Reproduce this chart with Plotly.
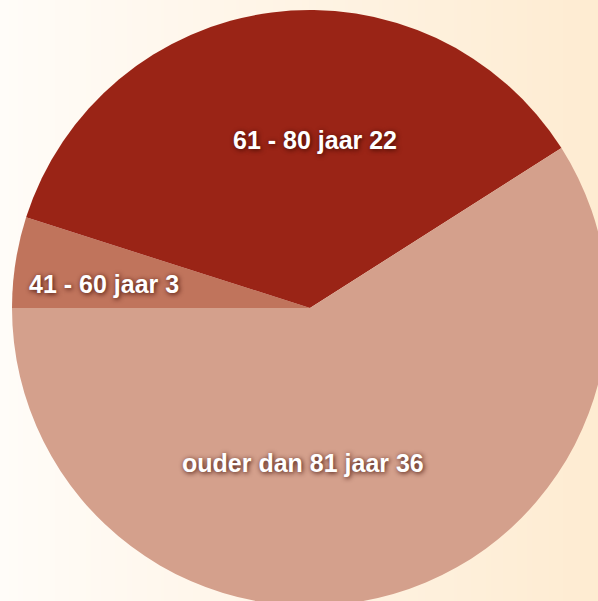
import base64
import math
import struct
import zlib

import plotly.graph_objects as go

# Data
labels = ["41 - 60 jaar", "61 - 80 jaar", "ouder dan 81 jaar"]
values = [3, 22, 36]
colors = ["#c0745c", "#9a2416", "#d4a08c"]

# label placement styling (radius fraction + pixel nudges)
label_radius = [0.70, 0.57, 0.52]
label_nudge = [(0, -8), (27, 0), (-50, -6)]


def gradient_png(width, left, right):
    row = b"\x00"
    for i in range(width):
        t = i / (width - 1)
        row += bytes(int(round(left[k] + (right[k] - left[k]) * t)) for k in range(3))

    def chunk(tag, data):
        c = struct.pack(">I", len(data)) + tag + data
        return c + struct.pack(">I", zlib.crc32(tag + data) & 0xFFFFFFFF)

    png = b"\x89PNG\r\n\x1a\n"
    png += chunk(b"IHDR", struct.pack(">IIBBBBB", width, 1, 8, 2, 0, 0, 0))
    png += chunk(b"IDAT", zlib.compress(row))
    png += chunk(b"IEND", b"")
    return "data:image/png;base64," + base64.b64encode(png).decode()


W, H = 620, 620
dom_x = [12 / W, 608 / W]
dom_y = [(H - 606) / H, (H - 10) / H]
rotation = 270

fig = go.Figure(
    go.Pie(
        labels=labels,
        values=values,
        sort=False,
        direction="clockwise",
        rotation=rotation,
        marker=dict(colors=colors, line=dict(width=0)),
        textinfo="none",
        hoverinfo="label+value+percent",
        showlegend=False,
        domain=dict(x=dom_x, y=dom_y),
    )
)

# compute label positions from the slice angles
cx = (dom_x[0] + dom_x[1]) / 2 * W
cy = H - (dom_y[0] + dom_y[1]) / 2 * H
R = min((dom_x[1] - dom_x[0]) * W, (dom_y[1] - dom_y[0]) * H) / 2
total = sum(values)
cum = 0
annotations = []
for lab, v, rf, (dx, dy) in zip(labels, values, label_radius, label_nudge):
    a = math.radians(rotation + 360 * (cum + v / 2) / total)
    cum += v
    px = cx + rf * R * math.sin(a)
    py = cy - rf * R * math.cos(a)
    annotations.append(
        dict(
            text=f"{lab} {v}",
            x=px / W,
            y=1 - py / H,
            xref="paper",
            yref="paper",
            xanchor="center",
            yanchor="middle",
            xshift=dx,
            yshift=dy,
            showarrow=False,
            font=dict(
                family="Liberation Sans, Arial, sans-serif",
                size=25,
                color="white",
                weight="bold",
                shadow="1px 1px 5px rgba(60,10,0,0.95)",
            ),
        )
    )

fig.update_layout(
    width=W,
    height=H,
    margin=dict(l=0, r=0, t=0, b=0),
    paper_bgcolor="#fff6ea",
    annotations=annotations,
    images=[
        dict(
            source=gradient_png(256, (255, 252, 248), (254, 235, 208)),
            xref="paper",
            yref="paper",
            x=0,
            y=1,
            sizex=1,
            sizey=1,
            xanchor="left",
            yanchor="top",
            sizing="stretch",
            layer="below",
        )
    ],
)

fig.write_html(
    "out.html",
    config={"displayModeBar": False},
    post_script="document.body.style.margin='0';document.body.style.overflow='hidden';",
)
